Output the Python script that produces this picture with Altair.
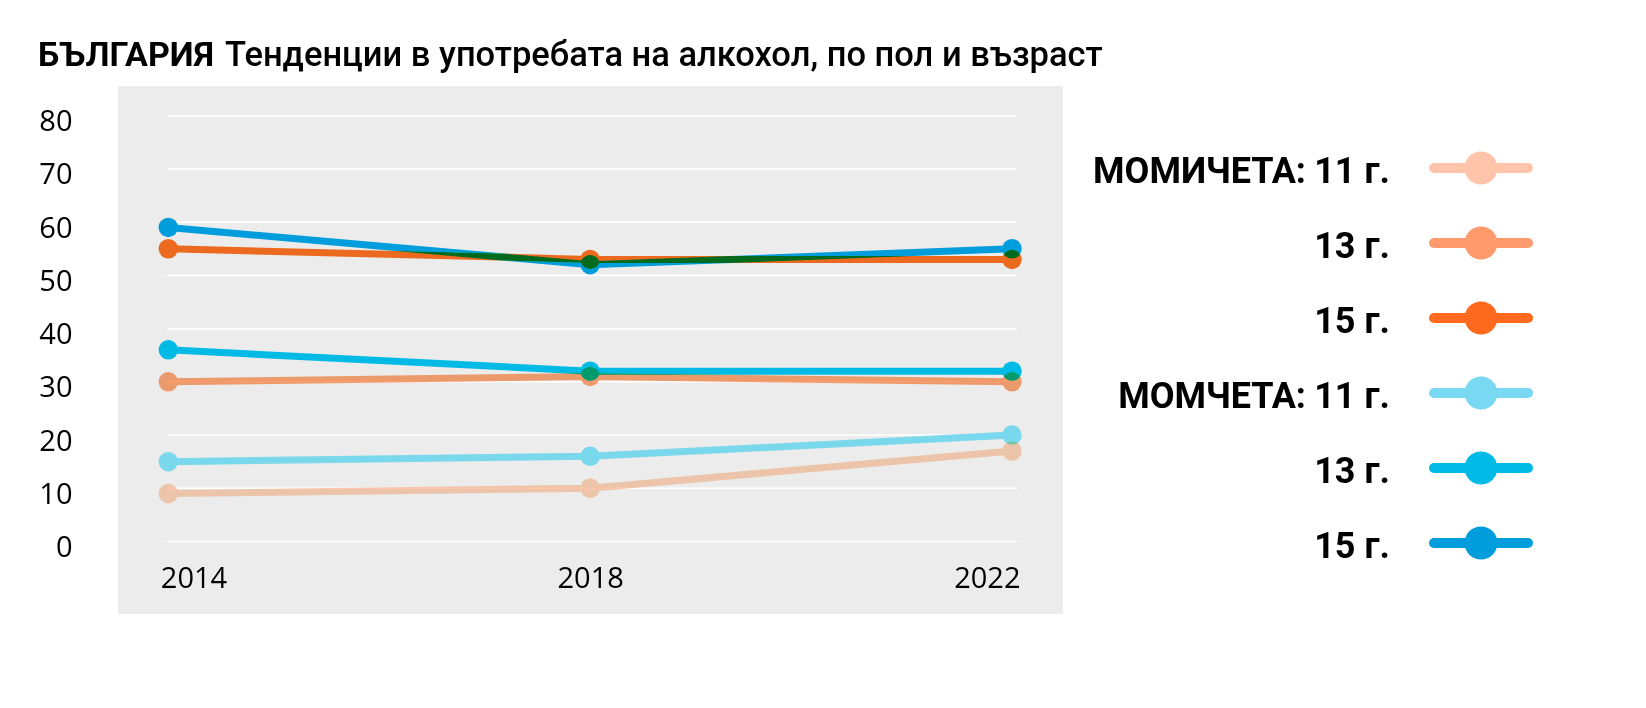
import altair as alt
import pandas as pd

# ---------------- data ----------------
YEARS = [2014, 2018, 2022]
SERIES = ["girls11", "girls13", "girls15", "boys11", "boys13", "boys15"]
GIRLS_11 = [9, 10, 17]
GIRLS_13 = [30, 31, 30]
GIRLS_15 = [55, 53, 53]
BOYS_11 = [15, 16, 20]
BOYS_13 = [36, 32, 32]
BOYS_15 = [59, 52, 55]
COLORS = ["#FFC4A9", "#FF9A6C", "#FF6A1F", "#79D8F2", "#00BAE6", "#009DDD"]
LEGEND_GROUP = ["МОМИЧЕТА:", "", "", "МОМЧЕТА:", "", ""]
LEGEND_AGE = ["11 г.", "13 г.", "15 г.", "11 г.", "13 г.", "15 г."]
Y_TICKS = [0, 10, 20, 30, 40, 50, 60, 70, 80]
TITLE_BOLD = "БЪЛГАРИЯ"
TITLE_REST = "Тенденции в употребата на алкохол, по пол и възраст"

VALUES = [GIRLS_11, GIRLS_13, GIRLS_15, BOYS_11, BOYS_13, BOYS_15]

rows = []
for s, vals in zip(SERIES, VALUES):
    for yr, v in zip(YEARS, vals):
        rows.append({"series": s, "year": yr, "value": v})
df = pd.DataFrame(rows)

grid_df = pd.DataFrame({"tick": Y_TICKS})
legend_df = pd.DataFrame({"series": SERIES, "group": LEGEND_GROUP, "age": LEGEND_AGE})
title_df = pd.DataFrame({"bold": [TITLE_BOLD], "rest": [TITLE_REST]})

# ---------------- styling ----------------
COND = "Roboto, DejaVu Sans Condensed, sans-serif"
NUMFONT = "Open Sans"
PANEL = "#EBECEB"

xscale = alt.Scale(domain=[2013.523, 2022.484], nice=False, zero=False)
yscale = alt.Scale(domain=[-13.63, 85.58], nice=False, zero=False)
color = alt.Color("series:N", scale=alt.Scale(domain=SERIES, range=COLORS), legend=None)

xaxis = alt.Axis(values=YEARS, format="d", grid=False, domain=False, ticks=False, tickSize=0,
                 labelFont=NUMFONT, labelFontSize=29, labelColor="#000000",
                 offset=-36, labelPadding=0, labelBaseline="middle",
                 labelFlush=60, labelFlushOffset=8, title=None)
yaxis = alt.Axis(values=Y_TICKS, grid=False, domain=False, ticks=False, tickSize=0,
                 labelFont=NUMFONT, labelFontSize=29, labelColor="#000000",
                 labelPadding=46, labelOffset=6, title=None)

grid = alt.Chart(grid_df).mark_rule(color="white", strokeWidth=1.6).encode(
    y=alt.Y("tick:Q", scale=yscale, axis=yaxis),
    x=alt.datum(2013.988),
    x2=alt.datum(2022.047),
)

lines = alt.Chart(df).mark_line(strokeWidth=7, blend="darken").encode(
    x=alt.X("year:Q", scale=xscale, axis=xaxis),
    y=alt.Y("value:Q", scale=yscale),
    color=color,
    detail="series:N",
)
points = alt.Chart(df).mark_circle(size=380, opacity=1, blend="darken").encode(
    x=alt.X("year:Q", scale=xscale),
    y=alt.Y("value:Q", scale=yscale),
    color=color,
)

main = alt.layer(grid, lines, points).properties(
    width=945, height=528,
    view=alt.ViewBackground(fill=PANEL, stroke=None),
)

# ---------------- legend panel ----------------
ly = alt.Y("series:N",
           scale=alt.Scale(domain=SERIES, type="point", range=[82, 457], padding=0),
           axis=None)
lcolor = alt.Color("series:N", scale=alt.Scale(domain=SERIES, range=COLORS), legend=None)

leg_line = alt.Chart(legend_df).mark_rule(strokeWidth=10, strokeCap="round").encode(
    y=ly, x=alt.value(354), x2=alt.value(448), color=lcolor)
leg_dot = alt.Chart(legend_df).mark_circle(size=1090, opacity=1).encode(
    y=ly, x=alt.value(401), color=lcolor)
leg_group = alt.Chart(legend_df).mark_text(
    align="right", baseline="middle", font=COND, fontSize=36, fontWeight="bold",
    color="#000000", dy=4).encode(y=ly, x=alt.value(226), text="group:N")
leg_age = alt.Chart(legend_df).mark_text(
    align="right", baseline="middle", font=COND, fontSize=36, fontWeight="bold",
    color="#000000", dy=4).encode(y=ly, x=alt.value(310), text="age:N")

legend = alt.layer(leg_line, leg_dot, leg_group, leg_age).properties(
    width=470, height=528,
    view=alt.ViewBackground(fill=None, stroke=None),
)

# ---------------- header ----------------
head_bold = alt.Chart(title_df).mark_text(
    align="left", baseline="alphabetic", font=COND, fontSize=34, fontWeight="bold",
    color="#000000").encode(x=alt.value(-80), y=alt.value(34), text="bold:N")
head_rest = alt.Chart(title_df).mark_text(
    align="left", baseline="alphabetic", font=COND, fontSize=34.5, fontWeight=500,
    color="#000000").encode(x=alt.value(107), y=alt.value(34), text="rest:N")
header = alt.layer(head_bold, head_rest).properties(
    width=1000, height=40,
    view=alt.ViewBackground(fill=None, stroke=None),
)

body = alt.hconcat(main, legend, spacing=17)
chart = alt.vconcat(header, body, spacing=13).properties(
    padding={"left": 30, "top": 24, "right": 5, "bottom": 5}
).configure_view(stroke=None)

chart.save("out.html", embed_options={"renderer": "svg", "actions": False})
